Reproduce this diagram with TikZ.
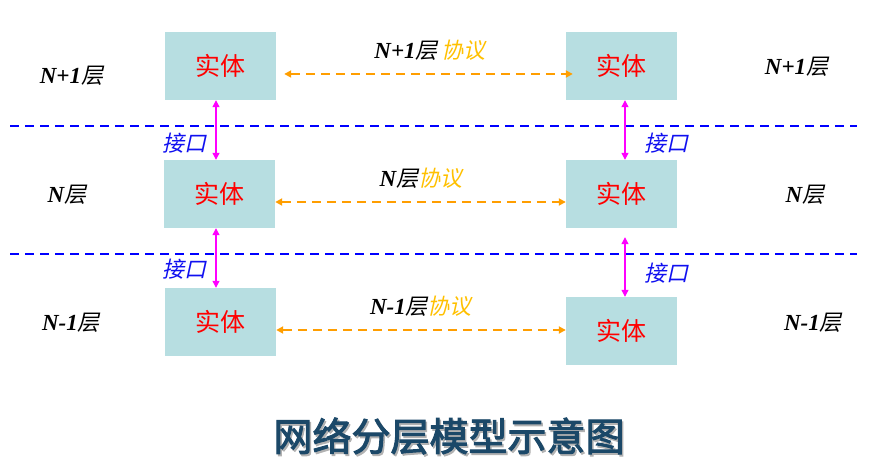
\documentclass[tikz,border=0pt]{standalone}
\usepackage{fontspec}
\usetikzlibrary{arrows.meta}
\newfontfamily\latbi{Liberation Serif}[UprightFont=* Bold Italic]
\newfontfamily\cjkit{Noto Sans CJK SC}[FakeSlant=0.22]
\newfontfamily\cjkup{Noto Sans CJK SC}
\newfontfamily\cjkti{Noto Sans CJK SC}[FakeBold=2.5]
\definecolor{boxfill}{HTML}{B7DEE1}
\definecolor{protoorange}{HTML}{FF9E00}
\definecolor{protogold}{HTML}{FFC000}
\definecolor{sepblue}{HTML}{0000FF}
\definecolor{ifblue}{HTML}{1010F0}
\definecolor{ifmagenta}{HTML}{FF00FF}
\definecolor{titleblue}{HTML}{1B4868}
\tikzset{
  entity/.style={fill=boxfill, draw=none, minimum width=111pt, minimum height=68pt, inner sep=0pt,
    text=red, font=\cjkup\fontsize{25}{25}\selectfont},
  harrow/.style={draw=protoorange, line width=2.4pt, dash pattern=on 9pt off 6pt,
    {Triangle[width=7pt,length=7pt]}-{Triangle[width=7pt,length=7pt]}},
  varrow/.style={draw=ifmagenta, line width=1.2pt,
    {Triangle[width=7pt,length=7pt]}-{Triangle[width=7pt,length=7pt]}},
  sepline/.style={draw=sepblue, line width=2.2pt, dash pattern=on 9pt off 6pt},
  layerlbl/.style={inner sep=0pt, text=black},
  protolbl/.style={inner sep=0pt, text=black},
  iflbl/.style={inner sep=0pt, text=ifblue, font=\cjkit\fontsize{22}{22}\selectfont},
}
\newcommand{\ltxt}[2]{{\latbi\fontsize{23}{23}\selectfont #1}{\cjkit\fontsize{22}{22}\selectfont #2}}
\begin{document}
\begin{tikzpicture}[x=1pt,y=-1pt]
\useasboundingbox (0,0) rectangle (871,457);
% separators
\coordinate (s1a) at (10,126); \coordinate (s1b) at (857,126);
\coordinate (s2a) at (10,254); \coordinate (s2b) at (857,254);
\draw[sepline] (s1a) -- (s1b);
\draw[sepline] (s2a) -- (s2b);
% entities
\node[entity] (e11) at (220.5,66) {实体};
\node[entity] (e12) at (621.5,66) {实体};
\node[entity] (e21) at (219.5,194) {实体};
\node[entity] (e22) at (621.5,194) {实体};
\node[entity] (e31) at (220.5,322) {实体};
\node[entity] (e32) at (621.5,331) {实体};
% protocol arrows
\draw[harrow] ([xshift=8pt,yshift=-8pt]e11.east) -- ([xshift=7pt,yshift=-8pt]e12.west);
\draw[harrow] ([yshift=-8pt]e21.east) -- ([yshift=-8pt]e22.west);
\draw[harrow] (e31.east |- 0,330) -- (e32.west |- 0,330);
% interface arrows
\draw[varrow] ([xshift=-4.5pt]e11.south) -- ([xshift=-4.5pt]e11.south |- e21.north);
\draw[varrow] ([xshift=-3.5pt]e21.south) -- ([xshift=-3.5pt]e21.south |- e31.north);
\draw[varrow] ([xshift=3.5pt]e12.south) -- ([xshift=3.5pt]e12.south |- e22.north);
\draw[varrow] ([xshift=3.5pt,yshift=-9pt]e22.south) -- ([xshift=3.5pt]e22.south |- e32.north);
% protocol labels
\node[protolbl] (p1) at (430,50) {\ltxt{N+1}{层}\hspace{4pt}{\cjkit\fontsize{22}{22}\selectfont\color{protogold}协议}};
\node[protolbl] (p2) at (421,178) {\ltxt{N}{层}{\cjkit\fontsize{22}{22}\selectfont\color{protogold}协议}};
\node[protolbl] (p3) at (421,306) {\ltxt{N-1}{层}{\cjkit\fontsize{22}{22}\selectfont\color{protogold}协议}};
% interface labels
\node[iflbl] (i1) at (184.5,143) {接口};
\node[iflbl] (i2) at (184.5,269) {接口};
\node[iflbl] (i3) at (666.5,143) {接口};
\node[iflbl] (i4) at (666.5,273) {接口};
% layer labels
\node[layerlbl] (l1) at (71.5,76) {\ltxt{N+1}{层}};
\node[layerlbl] (l2) at (67,195) {\ltxt{N}{层}};
\node[layerlbl] (l3) at (71,323) {\ltxt{N-1}{层}};
\node[layerlbl] (r1) at (796.5,67) {\ltxt{N+1}{层}};
\node[layerlbl] (r2) at (805,195) {\ltxt{N}{层}};
\node[layerlbl] (r3) at (813,323) {\ltxt{N-1}{层}};
% title
\node[inner sep=0pt, text=black!30, font=\cjkti\fontsize{39}{39}\selectfont] (tsh) at (450.5,438) {网络分层模型示意图};
\node[inner sep=0pt, text=titleblue, font=\cjkti\fontsize{39}{39}\selectfont] (title) at (449,436) {网络分层模型示意图};
\end{tikzpicture}
\end{document}
